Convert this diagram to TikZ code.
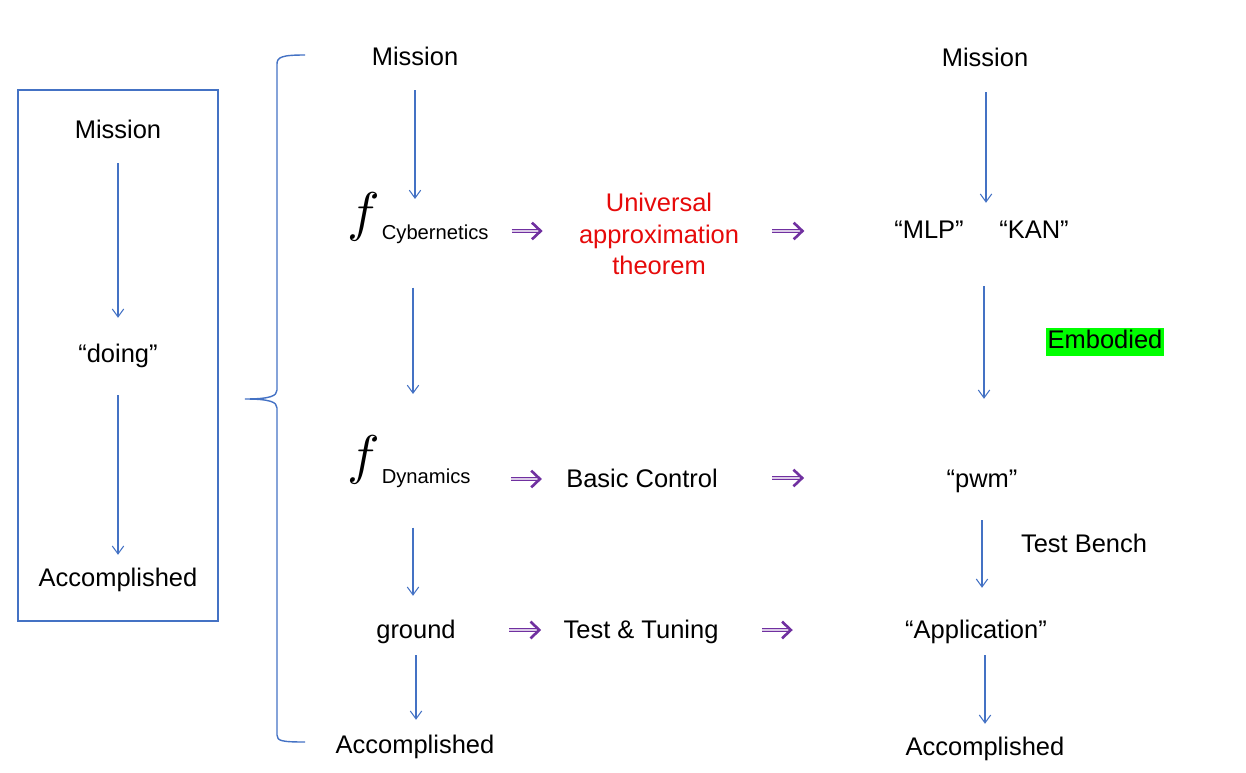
\documentclass[tikz,border=0pt]{standalone}
\usepackage{fontspec}
\usepackage{graphicx}
\setmainfont{Liberation Sans}
\usetikzlibrary{arrows.meta,calc}
\definecolor{lineblue}{RGB}{68,114,196}
\definecolor{dblpurple}{RGB}{112,48,160}
\definecolor{uatred}{RGB}{230,10,10}
\definecolor{embgreen}{RGB}{0,255,0}
\tikzset{
  lbl/.style={font=\fontsize{14.5}{17.9}\selectfont, inner sep=0pt, text height=10.5pt, text depth=3pt},
  flow/.style={draw=lineblue, line width=0.6pt, -{Straight Barb[length=4.5pt,width=6.5pt]}},
  dbl/.style={draw=dblpurple, line width=0.75pt, double=white!75!dblpurple, double distance=1.2pt,
    -{Straight Barb[length=5pt,width=9.5pt,line width=1.5pt]}},
}
\newcommand{\fsub}[1]{\raisebox{5.6pt}{\scalebox{3.1}{$f$}}\hspace{1pt}{\fontsize{11.5}{13}\selectfont #1}}
\begin{document}
\begin{tikzpicture}[x=0.02cm,y=-0.02cm]
  \useasboundingbox (0,0) rectangle (1246,773);

  % left summary box
  \draw[lineblue, line width=0.6pt] (18,90) rectangle (218,621);
  \node[lbl] (mis1) at (118,132) {Mission};
  \node[lbl] (doing1) at (118,356) {“doing”};
  \node[lbl] (acc1) at (118,580) {Accomplished};
  \draw[flow] ($(mis1.south)+(0,19)$) -- ($(doing1.north)+(0,-26)$);
  \draw[flow] ($(doing1.south)+(0,27)$) -- ($(acc1.north)+(0,-13)$);

  % brace
  \draw[lineblue, line width=0.8pt] (305,55) .. controls (282,55) and (277,57) .. (277,64) -- (277,390)
    .. controls (277,396) and (270,399) .. (245,399)
    .. controls (270,399) and (277,402) .. (277,408) -- (277,735)
    .. controls (277,741) and (282,742) .. (305,742);

  % middle column
  \node[lbl] (mis2) at (415,59) {Mission};
  \node[anchor=base, inner sep=0pt] (cyb) at (418,240) {\fsub{Cybernetics}};
  \node[anchor=base, inner sep=0pt] (dyn) at (409,483) {\fsub{Dynamics}};
  \node[lbl] (ground) at (416,632) {ground};
  \node[lbl] (acc2) at (415,747) {Accomplished};
  \draw[flow] ($(mis2.south)+(0,19)$) -- ($(mis2.south |- cyb.north)+(0,7)$);
  \draw[flow] ($(cyb.south -| mis2)+(-2,43)$) -- ($(dyn.north -| mis2)+(-2,-41)$);
  \draw[flow] ($(dyn.south -| mis2)+(-2,40)$) -- ($(ground.north)+(-3,-24)$);
  \draw[flow] ($(ground.south)+(0,11)$) -- ($(acc2.north)+(1,-15)$);

  % theorems
  \node[lbl, text height=, text depth=, align=center, text=uatred] (uat) at (659,234) {Universal\\approximation\\theorem};
  \node[lbl] (basic) at (642,481) {Basic Control};
  \node[lbl] (tt) at (641,632) {Test \& Tuning};

  % right column
  \node[lbl] (mis4) at (985,60) {Mission};
  \node[lbl] (mlp) at (929,232) {“MLP”};
  \node[lbl] (kan) at (1034,232) {“KAN”};
  \node[lbl, fill=embgreen, inner sep=1pt] (emb) at (1105,342) {Embodied};
  \node[lbl] (pwm) at (982,481) {“pwm”};
  \node[lbl] (bench) at (1084,546) {Test Bench};
  \node[lbl] (app) at (976,632) {“Application”};
  \node[lbl] (acc4) at (985,749) {Accomplished};
  \draw[flow] ($(mis4.south)+(1,20)$) -- ($(mis4.south |- mlp.north)+(1,-17)$);
  \draw[flow] ($(mis4.south |- mlp.south)+(-1,42)$) -- ($(mis4.south |- pwm.north)+(-1,-70)$);
  \draw[flow] ($(pwm.south)+(0,27)$) -- ($(pwm.south |- app.north)+(0,-32)$);
  \draw[flow] ($(acc4.north |- app.south)+(0,11)$) -- ($(acc4.north)+(0,-13)$);

  % double arrows
  \draw[dbl] ($(uat.west)+(-67,-3)$) -- ++(31,0);
  \draw[dbl] ($(uat.east)+(33,-3)$) -- ++(32,0);
  \draw[dbl] ($(basic.west)+(-55,-2)$) -- ++(31,0);
  \draw[dbl] ($(basic.east)+(54,-3)$) -- ++(32,0);
  \draw[dbl] ($(tt.west)+(-54,-2)$) -- ++(32,0);
  \draw[dbl] ($(tt.east)+(43,-2)$) -- ++(31,0);
\end{tikzpicture}
\end{document}
